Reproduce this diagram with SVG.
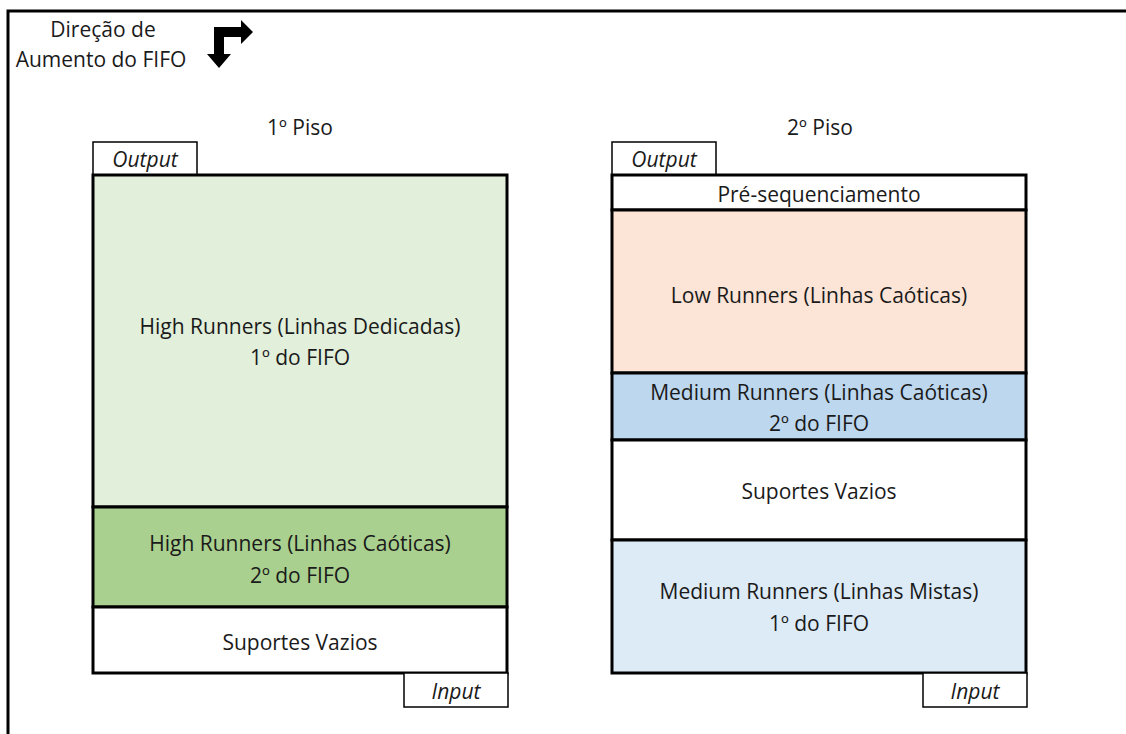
<svg xmlns="http://www.w3.org/2000/svg" width="1126" height="734" viewBox="0 0 1126 734">
<style>
text{font-family:"Open Sans","Liberation Sans",sans-serif;font-size:21px;fill:#1a1a1a;text-anchor:middle}
.it{font-style:italic}
.sec{stroke:#000;stroke-width:3}
.tab{fill:#fff;stroke:#000;stroke-width:1.5}
</style>
<rect x="0" y="0" width="1126" height="734" fill="#fff"/>
<rect id="frame" x="8" y="11" width="1130" height="740" fill="none" stroke="#000" stroke-width="3"/>
<g id="legend">
<text x="103" y="37">Direção de</text>
<text x="101" y="67">Aumento do FIFO</text>
<polygon points="214,27 241,27 241,20 253,32 241,44 241,37 224,37 224,54 231,54 219,68 207,54 214,54" fill="#000"/>
</g>
<g id="piso1">
<text x="300" y="135">1º Piso</text>
<rect class="tab" x="93" y="142" width="104" height="33"/>
<text class="it" x="145" y="167">Output</text>
<rect id="p1-dedicadas" class="sec" x="93" y="175" width="414" height="332" fill="#E2EFDA"/>
<text x="300" y="334">High Runners (Linhas Dedicadas)</text>
<text x="300" y="365">1º do FIFO</text>
<rect id="p1-caoticas" class="sec" x="93" y="507" width="414" height="100" fill="#A9D08E"/>
<text x="300" y="551">High Runners (Linhas Caóticas)</text>
<text x="300" y="583">2º do FIFO</text>
<rect id="p1-vazios" class="sec" x="93" y="607" width="414" height="66" fill="#fff"/>
<text x="300" y="650">Suportes Vazios</text>
<rect class="tab" x="404" y="673" width="104" height="34"/>
<text class="it" x="456" y="699">Input</text>
</g>
<g id="piso2">
<text x="820" y="135">2º Piso</text>
<rect class="tab" x="612" y="142" width="104" height="33"/>
<text class="it" x="664" y="167">Output</text>
<rect id="p2-pre" class="sec" x="612" y="175" width="414" height="35" fill="#fff"/>
<text x="819" y="202">Pré-sequenciamento</text>
<rect id="p2-low" class="sec" x="612" y="210" width="414" height="163" fill="#FCE4D6"/>
<text x="819" y="303">Low Runners (Linhas Caóticas)</text>
<rect id="p2-medium" class="sec" x="612" y="373" width="414" height="67" fill="#BDD7EE"/>
<text x="819" y="400">Medium Runners (Linhas Caóticas)</text>
<text x="819" y="431">2º do FIFO</text>
<rect id="p2-vazios" class="sec" x="612" y="440" width="414" height="100" fill="#fff"/>
<text x="819" y="499">Suportes Vazios</text>
<rect id="p2-mistas" class="sec" x="612" y="540" width="414" height="133" fill="#DDEBF7"/>
<text x="819" y="599">Medium Runners (Linhas Mistas)</text>
<text x="819" y="631">1º do FIFO</text>
<rect class="tab" x="923" y="673" width="104" height="34"/>
<text class="it" x="975" y="699">Input</text>
</g>
<g id="connectors"></g>
</svg>
